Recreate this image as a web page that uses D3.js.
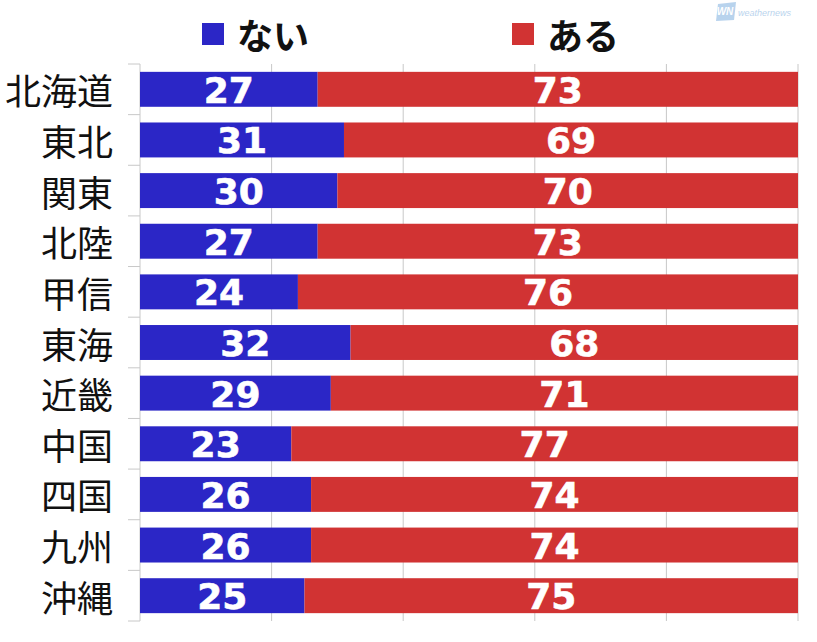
<!DOCTYPE html>
<html><head><meta charset="utf-8">
<script src="https://cdn.jsdelivr.net/npm/d3@7"></script>
<style>body{margin:0;background:#fff;}</style>
</head><body>
<svg id="c" width="817" height="642"></svg>
<script>
const categories = ["北海道","東北","関東","北陸","甲信","東海","近畿","中国","四国","九州","沖縄"];
const naiValues = [27,31,30,27,24,32,29,23,26,26,25];
const aruValues = [73,69,70,73,76,68,71,77,74,74,75];
const seriesNames = ["ない","ある"];
const xTicks = [0,20,40,60,80,100];
const colors = ["#2b26c6","#d13333"];

const svg = d3.select("#c");
const margin = {left:140, right:19, top:64, bottom:21};
const W = 817, H = 642;
const x = d3.scaleLinear().domain([0,100]).range([margin.left, W-margin.right]);
const y = d3.scaleBand().domain(categories).range([margin.top, H-margin.bottom]).paddingInner(0.31).paddingOuter(0.155);
const yTicks = d3.scaleBand().domain(categories).range([margin.top, H-margin.bottom]);

// gridlines
svg.append("g").selectAll("line").data(xTicks.slice(1)).join("line")
  .attr("x1",d=>x(d)).attr("x2",d=>x(d))
  .attr("y1",margin.top).attr("y2",H-margin.bottom)
  .attr("stroke","#c8c8c8").attr("stroke-width",1);

// axis line and ticks at band boundaries
const ax = svg.append("g");
ax.append("line").attr("x1",x(0)).attr("x2",x(0)).attr("y1",margin.top).attr("y2",H-margin.bottom)
  .attr("stroke","#c8c8c8");
const bounds = categories.map(c=>yTicks(c)).concat([H-margin.bottom]);
ax.selectAll("line.t").data(bounds).join("line").attr("class","t")
  .attr("x1",x(0)-12).attr("x2",x(0)).attr("y1",d=>d).attr("y2",d=>d)
  .attr("stroke","#c8c8c8");

const rows = categories.map((c,i)=>({c, v:[naiValues[i], aruValues[i]]}));
const g = svg.append("g").selectAll("g").data(rows).join("g");
g.each(function(d){
  let acc = 0;
  const sel = d3.select(this);
  d.v.forEach((v,k)=>{
    const x0 = x(acc), x1 = x(acc+v);
    sel.append("rect").attr("x",x0).attr("width",x1-x0)
      .attr("y",y(d.c)).attr("height",y.bandwidth())
      .attr("fill",colors[k]);
    sel.append("text").attr("x",(x0+x1)/2).attr("y",y(d.c)+y.bandwidth()/2+1)
      .attr("text-anchor","middle").attr("dominant-baseline","central")
      .attr("font-family","DejaVu Sans, sans-serif").attr("font-weight","bold")
      .attr("font-size",36).attr("fill","#fff").attr("stroke","#fff").attr("stroke-width",0.6)
      .text(v);
    acc += v;
  });
  sel.append("text").attr("x",113).attr("y",y(d.c)+y.bandwidth()/2)
    .attr("text-anchor","end").attr("dominant-baseline","central")
    .attr("font-family","Noto Sans CJK JP, sans-serif").attr("font-size",36).attr("fill","#111")
    .text(d.c);
});

// legend
const legX = [202, 512];
seriesNames.forEach((s,i)=>{
  svg.append("rect").attr("x",legX[i]).attr("y",23).attr("width",22).attr("height",22).attr("fill",colors[i]);
  svg.append("text").attr("x",legX[i]+35).attr("y",34).attr("dominant-baseline","central")
    .attr("font-family","Noto Sans CJK JP, sans-serif").attr("font-weight","bold").attr("font-size",36).attr("fill","#111")
    .text(s);
});

// logo
const lg = svg.append("g").attr("opacity",0.55);
lg.append("path").attr("d","M718,4 L736,2 L734,20 L716,21 Z").attr("fill","#7fb0e0");
lg.append("text").attr("x",725).attr("y",15).attr("text-anchor","middle").attr("font-family","Liberation Sans, sans-serif")
  .attr("font-weight","bold").attr("font-style","italic").attr("font-size",10).attr("fill","#fff").text("WN");
lg.append("text").attr("x",738).attr("y",16).attr("font-family","Liberation Sans, sans-serif")
  .attr("font-style","italic").attr("font-size",9).attr("fill","#7fb0e0").text("weathernews");
</script>
</body></html>
